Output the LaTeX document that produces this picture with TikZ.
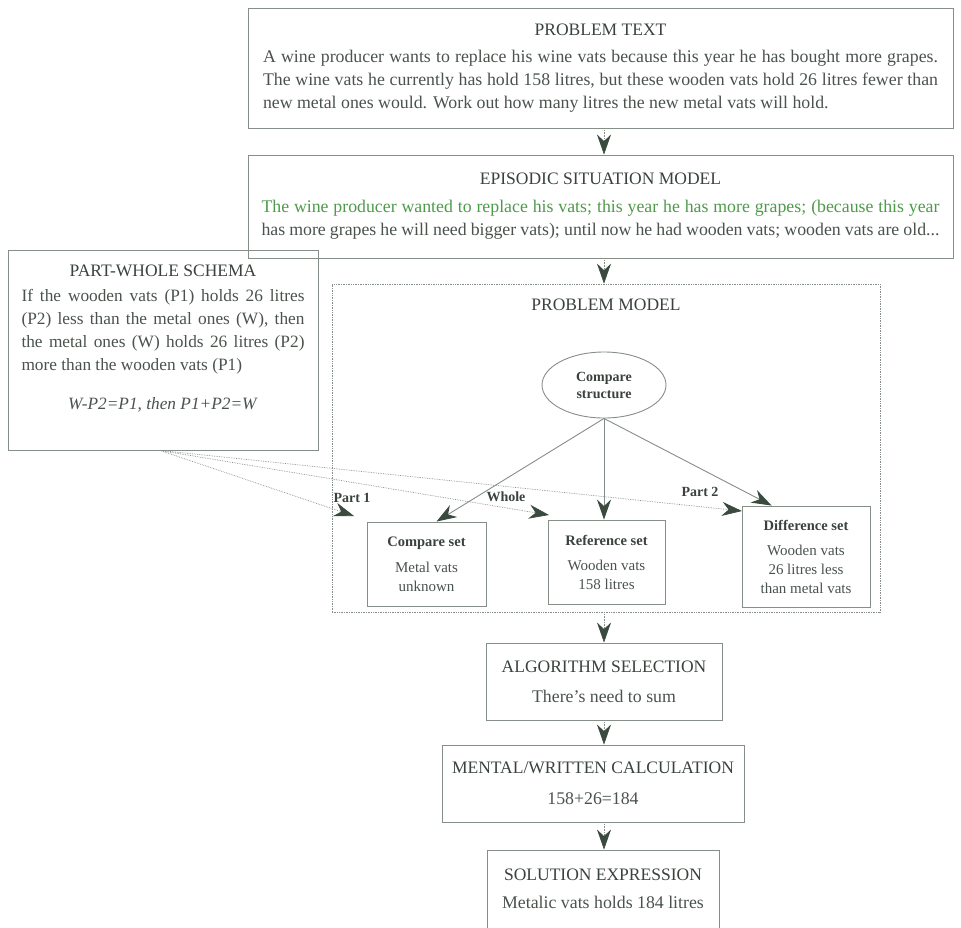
\documentclass[tikz,border=0pt]{standalone}
\usepackage{fontspec}
\setmainfont{Liberation Serif}
\usetikzlibrary{arrows.meta,shapes.geometric,calc}
\definecolor{ink}{HTML}{4A524C}
\definecolor{dark}{HTML}{3A423C}
\definecolor{edge}{HTML}{868E88}
\definecolor{grn}{HTML}{4E9A4A}
\definecolor{headc}{HTML}{3A4A3E}
\newcommand\jline[2][675pt]{\hbox to #1{#2}}
\newcommand\lline[2][675pt]{\hbox to #1{#2\hfil}}
\begin{document}
\begin{tikzpicture}[x=1pt,y=-1pt,
  box/.style={draw=edge, line width=0.9pt, inner sep=0pt, text=ink, align=center},
  bigtxt/.style={font=\fontsize{17.8}{23}\selectfont},
  smalltxt/.style={font=\fontsize{15}{19}\selectfont},
  lbl/.style={text=dark, font=\fontsize{14}{16}\selectfont\bfseries, inner sep=1pt},
  headtip/.tip={Stealth[length=20pt,width=14pt,inset=6.5pt,color=headc]},
  vconn/.style={draw=edge, line width=0.6pt, densely dotted, -headtip},
  sconn/.style={draw=edge, line width=0.9pt, -headtip},
  dconn/.style={draw=edge, line width=0.7pt, densely dotted, -headtip}]
\useasboundingbox (0,0) rectangle (961,927);
\coordinate (axis) at (604,0);

% PROBLEM TEXT
\node[box, bigtxt, minimum width=705pt, minimum height=120pt] (pt) at (600.5,68)
 {{\fontsize{17.5}{23}\selectfont\color{dark}PROBLEM TEXT}\\[4pt]
  \jline{A wine producer wants to replace his wine vats because this year he has bought more grapes.}\\
  \jline{The wine vats he currently has hold 158 litres, but these wooden vats hold 26 litres fewer than}\\
  \lline{new metal ones would. Work out how many litres the new metal vats will hold.}};

% EPISODIC SITUATION MODEL
\node[box, bigtxt, minimum width=705pt, minimum height=103pt] (esm) at (600.5,206.5)
 {{\fontsize{17.5}{23}\selectfont\color{dark}EPISODIC SITUATION MODEL}\\[5pt]
  \jline[678pt]{\color{grn}The wine producer wanted to replace his vats; this year he has more grapes; (because this year}\\
  \jline[678pt]{has more grapes he will need bigger vats); until now he had wooden vats; wooden vats are old...}};

% PART-WHOLE SCHEMA
\node[box, minimum width=310pt, minimum height=200pt] (pw) at (163,350) {};
\node[text=ink, align=center, inner sep=0pt, font=\fontsize{17.3}{23}\selectfont] (pwt) at (163,339)
 {{\fontsize{17.5}{23}\selectfont\color{dark}PART-WHOLE SCHEMA}\\[2pt]
  \jline[283pt]{If the wooden vats (P1) holds 26 litres}\\
  \jline[283pt]{(P2) less than the metal ones (W), then}\\
  \jline[283pt]{the metal ones (W) holds 26 litres (P2)}\\
  \lline[283pt]{more than the wooden vats (P1)}\\[16pt]
  \textit{W-P2=P1, then P1+P2=W}};

% PROBLEM MODEL
\node[draw=edge, line width=0.7pt, densely dotted, minimum width=548pt, minimum height=328pt, inner sep=0pt] (pm) at (606,448) {};
\node[text=dark, inner sep=0pt, font=\fontsize{17.5}{23}\selectfont] (pmt) at (606,305) {PROBLEM MODEL};

\node[draw=edge, line width=0.9pt, ellipse, minimum width=124pt, minimum height=66pt, inner sep=0pt,
      text=dark, align=center, font=\fontsize{14}{17}\selectfont\bfseries] (cs) at (604,385) {Compare\\structure};

\node[box, smalltxt, minimum width=119pt, minimum height=84pt] (cmp) at (426.5,564)
 {{\fontsize{14.5}{19}\selectfont\bfseries\color{dark}Compare set}\\[7pt] Metal vats\\ unknown};
\node[box, smalltxt, minimum width=117pt, minimum height=84pt] (ref) at (606.5,562)
 {{\fontsize{14.5}{19}\selectfont\bfseries\color{dark}Reference set}\\[6pt] Wooden vats\\ 158 litres};
\node[box, smalltxt, minimum width=128pt, minimum height=101pt] (dif) at (806,556.5)
 {{\fontsize{14.5}{19}\selectfont\bfseries\color{dark}Difference set}\\[6pt] Wooden vats\\ 26 litres less\\ than metal vats};

\draw[sconn] (cs.south) -- ([xshift=10pt]cmp.north);
\draw[sconn] (cs.south) -- (cs.south |- ref.north);
\draw[sconn] (cs.south) -- ([xshift=30pt]dif.north west);

% part-whole links
\coordinate (p1tip) at (354,516);
\coordinate (wtip) at (549,515);
\coordinate (p2tip) at (742,511);
\draw[dconn] ([xshift=-3pt]pw.south) -- (p1tip);
\draw[dconn] ([xshift=-3pt]pw.south) -- (wtip);
\draw[dconn] ([xshift=-3pt]pw.south) -- (p2tip);
\node[lbl] (l1) at (352,498) {Part 1};
\node[lbl] (l2) at (506,497) {Whole};
\node[lbl] (l3) at (700,492) {Part 2};

% lower chain
\node[box, bigtxt, minimum width=236pt, minimum height=77pt] (alg) at (604,681.5)
 {{\fontsize{17.5}{23}\selectfont\color{dark}ALGORITHM SELECTION}\\[7pt] There's need to sum};
\node[box, bigtxt, minimum width=302pt, minimum height=77pt] (calc) at (593,783.5)
 {{\fontsize{17.5}{23}\selectfont\color{dark}MENTAL/WRITTEN CALCULATION}\\[8pt] 158+26=184};
\node[box, bigtxt, minimum width=232pt, minimum height=78pt] (sol) at (603,889)
 {{\fontsize{17.5}{23}\selectfont\color{dark}SOLUTION EXPRESSION}\\[5pt] Metalic vats holds 184 litres};

\draw[vconn] (pt.south -| axis) -- (esm.north -| axis);
\draw[vconn] (esm.south -| axis) -- (pm.north -| axis);
\draw[vconn] (pm.south -| axis) -- (alg.north -| axis);
\draw[vconn] (alg.south -| axis) -- (calc.north -| axis);
\draw[vconn] (calc.south -| axis) -- (sol.north -| axis);
\end{tikzpicture}
\end{document}
